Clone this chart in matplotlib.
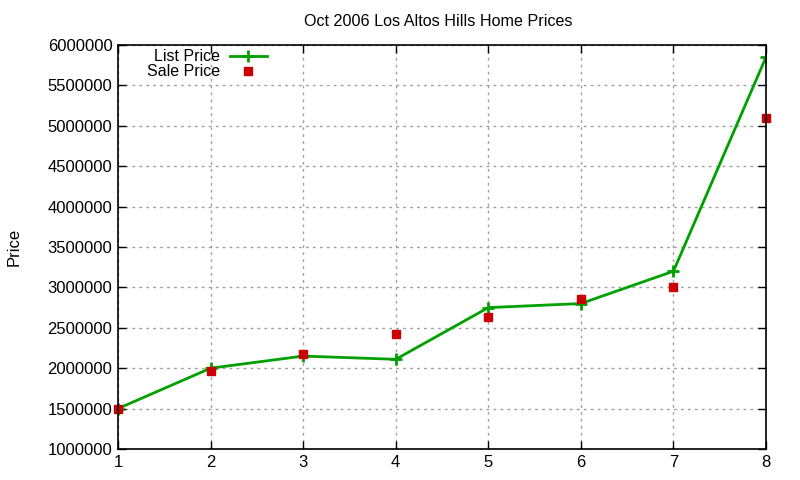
import matplotlib
matplotlib.use("Agg")
from matplotlib import pyplot as plt

# data
homes = [1, 2, 3, 4, 5, 6, 7, 8]
listPrice = [1500000, 2000000, 2150000, 2110000, 2750000, 2800000, 3200000, 5850000]
salePrice = [1500000, 1965000, 2175000, 2420000, 2630000, 2855000, 3005000, 5095000]
yTicks = [1000000, 1500000, 2000000, 2500000, 3000000, 3500000,
          4000000, 4500000, 5000000, 5500000, 6000000]

plt.rcParams['font.family'] = ['Liberation Sans', 'DejaVu Sans']

fig = plt.figure(figsize=(8, 4.8), dpi=100)
ax = fig.add_axes([0.1475, 0.0646, 0.81, 0.8416])

ax.plot(homes, listPrice, color='#00a000', linewidth=2, marker='+',
        markersize=9, markeredgewidth=2, label='List Price')
ax.plot(homes, salePrice, linestyle='none', color='#cc0000', marker='s',
        markersize=6, label='Sale Price', clip_on=False)

ax.set_xlim(1, 8)
ax.set_ylim(1000000, 6000000)
ax.set_xticks(homes)
ax.set_yticks(yTicks)
ax.set_yticklabels([str(v) for v in yTicks])
ax.tick_params(direction='in', top=True, right=True, labelsize=12, length=6,
               width=1, pad=4)
ax.grid(True, color='#a0a0a0', linestyle=(0, (2, 3)), linewidth=1)
for s in ax.spines.values():
    s.set_linewidth(1.2)

ax.set_ylabel('Price', fontsize=12, labelpad=19)
fig.text(0.5475, 0.956, 'Oct 2006 Los Altos Hills Home Prices', ha='center',
         va='center', fontsize=11.6)

leg = ax.legend(loc='upper left', markerfirst=False, frameon=False,
                fontsize=11.5, handlelength=2.3, borderaxespad=0.0,
                labelspacing=0.0, bbox_to_anchor=(0.035, 1.005), handletextpad=0.6)

fig.savefig('out.png', dpi=100)
